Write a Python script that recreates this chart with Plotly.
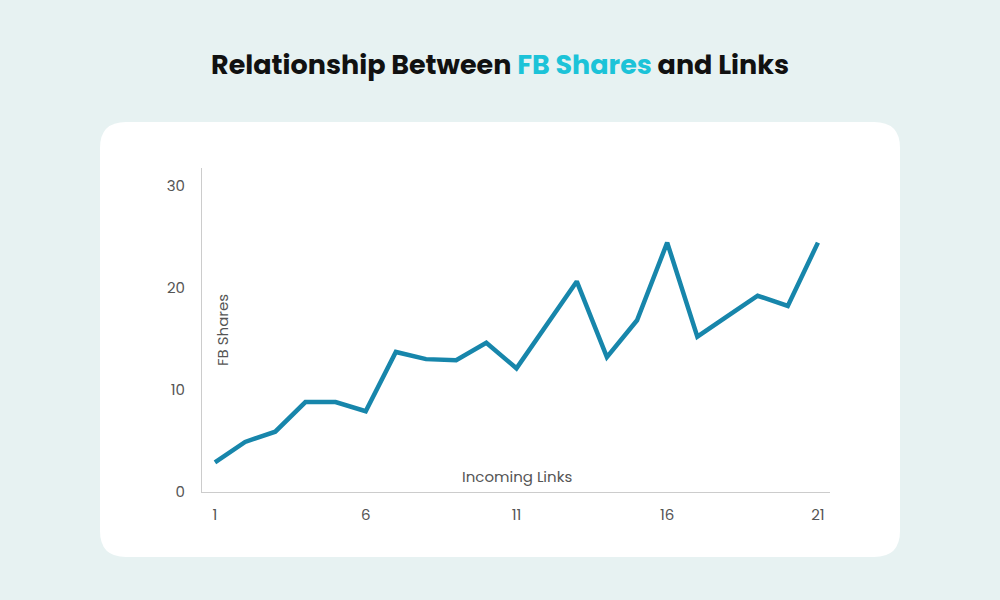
import plotly.graph_objects as go

# Data
incoming_links = list(range(1, 22))
fb_shares = [2.9, 4.9, 5.9, 8.8, 8.8, 7.9, 13.7, 13.0, 12.9, 14.6, 12.1,
             16.3, 20.6, 13.2, 16.8, 24.4, 15.2, 17.2, 19.2, 18.2, 24.4]
x_ticks = [1, 6, 11, 16, 21]
y_ticks = [0, 10, 20, 30]

FONT = "Poppins, Inter, 'Open Sans', sans-serif"
W, H = 1000, 600
ML, MR, MT, MB = 202, 170, 168, 108
PW, PH = W - ML - MR, H - MT - MB


def px_to_paper(px, py):
    return (px - ML) / PW, (H - MB - py) / PH


def rounded_card(x0, y0, x1, y1, r):
    # rounded rectangle in pixel space, converted to paper coords
    rx, ry = r / PW, r / PH
    ax, ay = px_to_paper(x0, y0)
    bx, by = px_to_paper(x1, y1)
    top, bot = ay, by
    return (f"M {ax + rx},{top} L {bx - rx},{top} "
            f"Q {bx},{top} {bx},{top - ry} L {bx},{bot + ry} "
            f"Q {bx},{bot} {bx - rx},{bot} L {ax + rx},{bot} "
            f"Q {ax},{bot} {ax},{bot + ry} L {ax},{top - ry} "
            f"Q {ax},{top} {ax + rx},{top} Z")


fig = go.Figure()

fig.add_trace(go.Scatter(
    x=incoming_links,
    y=fb_shares,
    mode="lines",
    line=dict(color="#1786AB", width=4.5),
    hovertemplate="%{x}: %{y}<extra></extra>",
))

fig.update_layout(
    width=W, height=H,
    margin=dict(l=ML, r=MR, t=MT, b=MB),
    paper_bgcolor="#E7F2F2",
    plot_bgcolor="rgba(0,0,0,0)",
    showlegend=False,
    font=dict(family=FONT, color="#555555", size=15),
    title=dict(
        text="<b>Relationship Between <span style='color:#1CC3D8'>FB Shares</span> and Links</b>",
        x=0.5, xref="container", xanchor="center",
        y=1 - 65 / H, yanchor="middle",
        font=dict(family=FONT, size=27, color="#111111"),
    ),
    shapes=[dict(
        type="path", xref="paper", yref="paper", layer="below",
        path=rounded_card(100, 122, 900, 557, 26),
        fillcolor="white", line=dict(width=0),
    )],
    annotations=[
        dict(text="FB Shares", xref="paper", yref="paper",
             x=px_to_paper(222, 330)[0], y=px_to_paper(222, 330)[1],
             xanchor="center", yanchor="middle",
             textangle=-90, showarrow=False,
             font=dict(family=FONT, size=15, color="#555555")),
        dict(text="Incoming Links", xref="paper", yref="paper",
             x=px_to_paper(517, 476)[0], y=px_to_paper(517, 476)[1],
             xanchor="center", yanchor="middle",
             showarrow=False,
             font=dict(family=FONT, size=15, color="#555555")),
    ],
)

fig.update_xaxes(
    range=[0.57, 21.4],
    tickvals=x_ticks,
    showgrid=False, zeroline=False,
    showline=True, linecolor="#CCCCCC", linewidth=1,
    ticks="", ticklabelstandoff=9,
)
fig.update_yaxes(
    range=[0, 31.7],
    tickvals=y_ticks,
    showgrid=False, zeroline=False,
    showline=True, linecolor="#CCCCCC", linewidth=1,
    ticks="", ticklabelstandoff=13,
)

fig.write_html("out.html", config={"displayModeBar": False},
               post_script="document.body.style.margin='0';")
